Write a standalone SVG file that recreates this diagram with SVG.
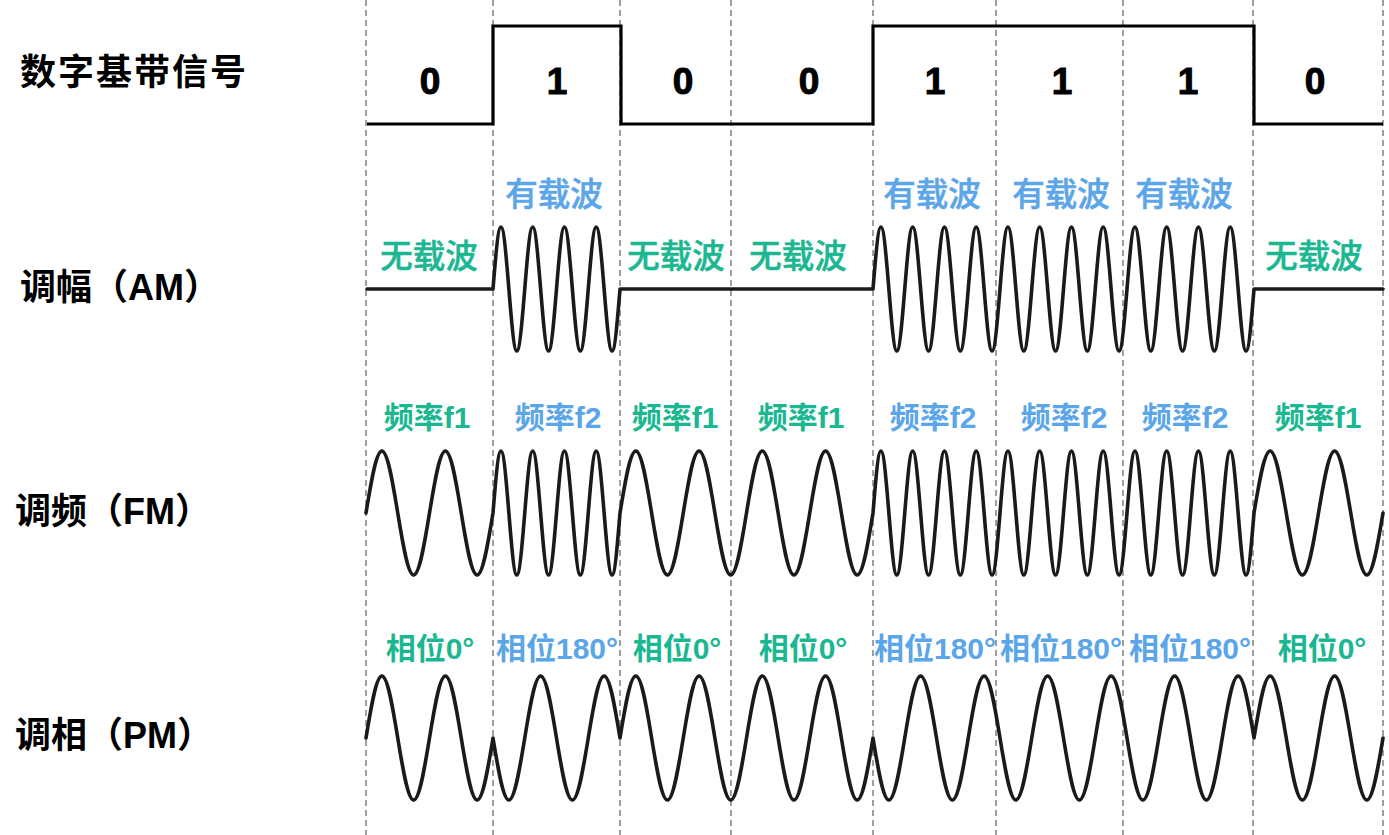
<svg xmlns="http://www.w3.org/2000/svg" width="1389" height="835" viewBox="0 0 1389 835">
<style>
.grid{stroke:#808080;stroke-width:1.5;stroke-dasharray:6 4;fill:none}
.sig{fill:none;stroke:#1a1a1a;stroke-width:3.6;stroke-linejoin:round;stroke-linecap:round}
.digital{fill:none;stroke:#000;stroke-width:3.2;stroke-linejoin:miter}
.title{font-family:"Liberation Sans","Noto Sans CJK SC",sans-serif;font-weight:bold;font-size:36px;fill:#000}
.wide{letter-spacing:2px}
.bit{font-family:"Liberation Sans",Arial,sans-serif;font-weight:bold;font-size:37px;text-anchor:middle;fill:#000;stroke:#000;stroke-width:1px}
.am{font-family:"Liberation Sans","Noto Sans CJK SC",sans-serif;font-size:32.5px;font-weight:500;text-anchor:middle;stroke-width:0.5px}
.lab{font-family:"Liberation Sans","Noto Sans CJK SC",sans-serif;font-size:30px;font-weight:bold;text-anchor:middle}
.g{fill:#1AB791}
.b{fill:#5BA5E9}
.am.g{stroke:#1AB791}
.am.b{stroke:#5BA5E9}
</style>
<rect width="1389" height="835" fill="#fff"/>
<g id="grid">
<line class="grid" x1="366" y1="0" x2="366" y2="835"/>
<line class="grid" x1="493" y1="0" x2="493" y2="835"/>
<line class="grid" x1="620" y1="0" x2="620" y2="835"/>
<line class="grid" x1="731" y1="0" x2="731" y2="835"/>
<line class="grid" x1="873" y1="0" x2="873" y2="835"/>
<line class="grid" x1="996" y1="0" x2="996" y2="835"/>
<line class="grid" x1="1123" y1="0" x2="1123" y2="835"/>
<line class="grid" x1="1253" y1="0" x2="1253" y2="835"/>
<line class="grid" x1="1383" y1="0" x2="1383" y2="835"/>
</g>
<g id="row-labels">
<g id="label-digital"><text class="title wide" x="20" y="85">数字基带信号</text></g>
<g id="label-am"><text class="title" x="20" y="300">调幅（AM）</text></g>
<g id="label-fm"><text class="title" x="15" y="524">调频（FM）</text></g>
<g id="label-pm"><text class="title" x="15" y="748">调相（PM）</text></g>
</g>
<g id="connectors">
<path id="digital-signal" class="digital" d="M367,124 H493 V26 H621 V124 H873 V26 H1254 V124 H1383"/>
<path id="am-signal" class="sig" d="M367,289 H493 c2.588,-31.76 5.065,-62 7.9375,-62 s5.349,30.24 7.9375,62 s5.065,62 7.9375,62 s5.349,-30.24 7.9375,-62 s5.065,-62 7.9375,-62 s5.349,30.24 7.9375,62 s5.065,62 7.9375,62 s5.349,-30.24 7.9375,-62 s5.065,-62 7.9375,-62 s5.349,30.24 7.9375,62 s5.065,62 7.9375,62 s5.349,-30.24 7.9375,-62 s5.065,-62 7.9375,-62 s5.349,30.24 7.9375,62 s5.065,62 7.9375,62 s5.349,-30.24 7.9375,-62 H873 c2.588,-31.76 5.065,-62 7.9375,-62 s5.349,30.24 7.9375,62 s5.065,62 7.9375,62 s5.349,-30.24 7.9375,-62 s5.065,-62 7.9375,-62 s5.349,30.24 7.9375,62 s5.065,62 7.9375,62 s5.349,-30.24 7.9375,-62 s5.065,-62 7.9375,-62 s5.349,30.24 7.9375,62 s5.065,62 7.9375,62 s5.349,-30.24 7.9375,-62 s5.065,-62 7.9375,-62 s5.349,30.24 7.9375,62 s5.065,62 7.9375,62 s5.349,-30.24 7.9375,-62 s5.065,-62 7.9375,-62 s5.349,30.24 7.9375,62 s5.065,62 7.9375,62 s5.349,-30.24 7.9375,-62 s5.065,-62 7.9375,-62 s5.349,30.24 7.9375,62 s5.065,62 7.9375,62 s5.349,-30.24 7.9375,-62 s5.065,-62 7.9375,-62 s5.349,30.24 7.9375,62 s5.065,62 7.9375,62 s5.349,-30.24 7.9375,-62 s5.065,-62 7.9375,-62 s5.349,30.24 7.9375,62 s5.065,62 7.9375,62 s5.349,-30.24 7.9375,-62 s5.065,-62 7.9375,-62 s5.349,30.24 7.9375,62 s5.065,62 7.9375,62 s5.349,-30.24 7.9375,-62 s5.065,-62 7.9375,-62 s5.349,30.24 7.9375,62 s5.065,62 7.9375,62 s5.349,-30.24 7.9375,-62 s5.065,-62 7.9375,-62 s5.349,30.24 7.9375,62 s5.065,62 7.9375,62 s5.349,-30.24 7.9375,-62 s5.065,-62 7.9375,-62 s5.349,30.24 7.9375,62 s5.065,62 7.9375,62 s5.349,-30.24 7.9375,-62 H1383"/>
<path id="fm-signal" class="sig" d="M366,513 c5.175,-31.76 10.13,-62 15.875,-62 s10.7,30.24 15.875,62 s10.13,62 15.875,62 s10.7,-30.24 15.875,-62 s10.13,-62 15.875,-62 s10.7,30.24 15.875,62 s10.13,62 15.875,62 s10.7,-30.24 15.875,-62 c2.588,-31.76 5.065,-62 7.9375,-62 s5.349,30.24 7.9375,62 s5.065,62 7.9375,62 s5.349,-30.24 7.9375,-62 s5.065,-62 7.9375,-62 s5.349,30.24 7.9375,62 s5.065,62 7.9375,62 s5.349,-30.24 7.9375,-62 s5.065,-62 7.9375,-62 s5.349,30.24 7.9375,62 s5.065,62 7.9375,62 s5.349,-30.24 7.9375,-62 s5.065,-62 7.9375,-62 s5.349,30.24 7.9375,62 s5.065,62 7.9375,62 s5.349,-30.24 7.9375,-62 c5.156,-31.76 10.09,-62 15.8125,-62 s10.656,30.24 15.8125,62 s10.09,62 15.8125,62 s10.656,-30.24 15.8125,-62 s10.09,-62 15.8125,-62 s10.656,30.24 15.8125,62 s10.09,62 15.8125,62 s10.656,-30.24 15.8125,-62 s10.09,-62 15.8125,-62 s10.656,30.24 15.8125,62 s10.09,62 15.8125,62 s10.656,-30.24 15.8125,-62 s10.09,-62 15.8125,-62 s10.656,30.24 15.8125,62 s10.09,62 15.8125,62 s10.656,-30.24 15.8125,-62 c2.588,-31.76 5.065,-62 7.9375,-62 s5.349,30.24 7.9375,62 s5.065,62 7.9375,62 s5.349,-30.24 7.9375,-62 s5.065,-62 7.9375,-62 s5.349,30.24 7.9375,62 s5.065,62 7.9375,62 s5.349,-30.24 7.9375,-62 s5.065,-62 7.9375,-62 s5.349,30.24 7.9375,62 s5.065,62 7.9375,62 s5.349,-30.24 7.9375,-62 s5.065,-62 7.9375,-62 s5.349,30.24 7.9375,62 s5.065,62 7.9375,62 s5.349,-30.24 7.9375,-62 s5.065,-62 7.9375,-62 s5.349,30.24 7.9375,62 s5.065,62 7.9375,62 s5.349,-30.24 7.9375,-62 s5.065,-62 7.9375,-62 s5.349,30.24 7.9375,62 s5.065,62 7.9375,62 s5.349,-30.24 7.9375,-62 s5.065,-62 7.9375,-62 s5.349,30.24 7.9375,62 s5.065,62 7.9375,62 s5.349,-30.24 7.9375,-62 s5.065,-62 7.9375,-62 s5.349,30.24 7.9375,62 s5.065,62 7.9375,62 s5.349,-30.24 7.9375,-62 s5.065,-62 7.9375,-62 s5.349,30.24 7.9375,62 s5.065,62 7.9375,62 s5.349,-30.24 7.9375,-62 s5.065,-62 7.9375,-62 s5.349,30.24 7.9375,62 s5.065,62 7.9375,62 s5.349,-30.24 7.9375,-62 s5.065,-62 7.9375,-62 s5.349,30.24 7.9375,62 s5.065,62 7.9375,62 s5.349,-30.24 7.9375,-62 s5.065,-62 7.9375,-62 s5.349,30.24 7.9375,62 s5.065,62 7.9375,62 s5.349,-30.24 7.9375,-62 c5.258,-31.76 10.289,-62 16.125,-62 s10.866,30.24 16.125,62 s10.289,62 16.125,62 s10.866,-30.24 16.125,-62 s10.289,-62 16.125,-62 s10.866,30.24 16.125,62 s10.289,62 16.125,62 s10.866,-30.24 16.125,-62"/>
<path id="pm-signal" class="sig" d="M366,738 c5.175,-31.76 10.13,-62 15.875,-62 s10.7,30.24 15.875,62 s10.13,62 15.875,62 s10.7,-30.24 15.875,-62 s10.13,-62 15.875,-62 s10.7,30.24 15.875,62 s10.13,62 15.875,62 s10.7,-30.24 15.875,-62 c5.175,31.76 10.13,62 15.875,62 s10.7,-30.24 15.875,-62 s10.13,-62 15.875,-62 s10.7,30.24 15.875,62 s10.13,62 15.875,62 s10.7,-30.24 15.875,-62 s10.13,-62 15.875,-62 s10.7,30.24 15.875,62 c5.156,-31.76 10.09,-62 15.8125,-62 s10.656,30.24 15.8125,62 s10.09,62 15.8125,62 s10.656,-30.24 15.8125,-62 s10.09,-62 15.8125,-62 s10.656,30.24 15.8125,62 s10.09,62 15.8125,62 s10.656,-30.24 15.8125,-62 s10.09,-62 15.8125,-62 s10.656,30.24 15.8125,62 s10.09,62 15.8125,62 s10.656,-30.24 15.8125,-62 s10.09,-62 15.8125,-62 s10.656,30.24 15.8125,62 s10.09,62 15.8125,62 s10.656,-30.24 15.8125,-62 c5.175,31.76 10.13,62 15.875,62 s10.7,-30.24 15.875,-62 s10.13,-62 15.875,-62 s10.7,30.24 15.875,62 s10.13,62 15.875,62 s10.7,-30.24 15.875,-62 s10.13,-62 15.875,-62 s10.7,30.24 15.875,62 s10.13,62 15.875,62 s10.7,-30.24 15.875,-62 s10.13,-62 15.875,-62 s10.7,30.24 15.875,62 s10.13,62 15.875,62 s10.7,-30.24 15.875,-62 s10.13,-62 15.875,-62 s10.7,30.24 15.875,62 s10.13,62 15.875,62 s10.7,-30.24 15.875,-62 s10.13,-62 15.875,-62 s10.7,30.24 15.875,62 s10.13,62 15.875,62 s10.7,-30.24 15.875,-62 s10.13,-62 15.875,-62 s10.7,30.24 15.875,62 c5.258,-31.76 10.289,-62 16.125,-62 s10.866,30.24 16.125,62 s10.289,62 16.125,62 s10.866,-30.24 16.125,-62 s10.289,-62 16.125,-62 s10.866,30.24 16.125,62 s10.289,62 16.125,62 s10.866,-30.24 16.125,-62"/>
</g>
<g id="bits">
<g id="bit-1"><text class="bit" x="430" y="94">0</text></g>
<g id="bit-2"><text class="bit" x="557" y="94">1</text></g>
<g id="bit-3"><text class="bit" x="683" y="94">0</text></g>
<g id="bit-4"><text class="bit" x="809" y="94">0</text></g>
<g id="bit-5"><text class="bit" x="935" y="94">1</text></g>
<g id="bit-6"><text class="bit" x="1062" y="94">1</text></g>
<g id="bit-7"><text class="bit" x="1188" y="94">1</text></g>
<g id="bit-8"><text class="bit" x="1315" y="94">0</text></g>
</g>
<g id="am-labels">
<g id="am-1"><text class="am g" x="429" y="268">无载波</text></g>
<g id="am-2"><text class="am b" x="554" y="206">有载波</text></g>
<g id="am-3"><text class="am g" x="676" y="268">无载波</text></g>
<g id="am-4"><text class="am g" x="798" y="268">无载波</text></g>
<g id="am-5"><text class="am b" x="932" y="206">有载波</text></g>
<g id="am-6"><text class="am b" x="1061" y="206">有载波</text></g>
<g id="am-7"><text class="am b" x="1184" y="206">有载波</text></g>
<g id="am-8"><text class="am g" x="1314" y="268">无载波</text></g>
</g>
<g id="fm-labels">
<g id="fm-1"><text class="lab g" x="427" y="428">频率f1</text></g>
<g id="fm-2"><text class="lab b" x="558" y="428">频率f2</text></g>
<g id="fm-3"><text class="lab g" x="675" y="428">频率f1</text></g>
<g id="fm-4"><text class="lab g" x="801" y="428">频率f1</text></g>
<g id="fm-5"><text class="lab b" x="933" y="428">频率f2</text></g>
<g id="fm-6"><text class="lab b" x="1064" y="428">频率f2</text></g>
<g id="fm-7"><text class="lab b" x="1185" y="428">频率f2</text></g>
<g id="fm-8"><text class="lab g" x="1318" y="428">频率f1</text></g>
</g>
<g id="pm-labels">
<g id="pm-1"><text class="lab g" x="430" y="659">相位0°</text></g>
<g id="pm-2"><text class="lab b" x="557" y="659">相位180°</text></g>
<g id="pm-3"><text class="lab g" x="677" y="659">相位0°</text></g>
<g id="pm-4"><text class="lab g" x="803" y="659">相位0°</text></g>
<g id="pm-5"><text class="lab b" x="935" y="659">相位180°</text></g>
<g id="pm-6"><text class="lab b" x="1061" y="659">相位180°</text></g>
<g id="pm-7"><text class="lab b" x="1190" y="659">相位180°</text></g>
<g id="pm-8"><text class="lab g" x="1322" y="659">相位0°</text></g>
</g>
</svg>
